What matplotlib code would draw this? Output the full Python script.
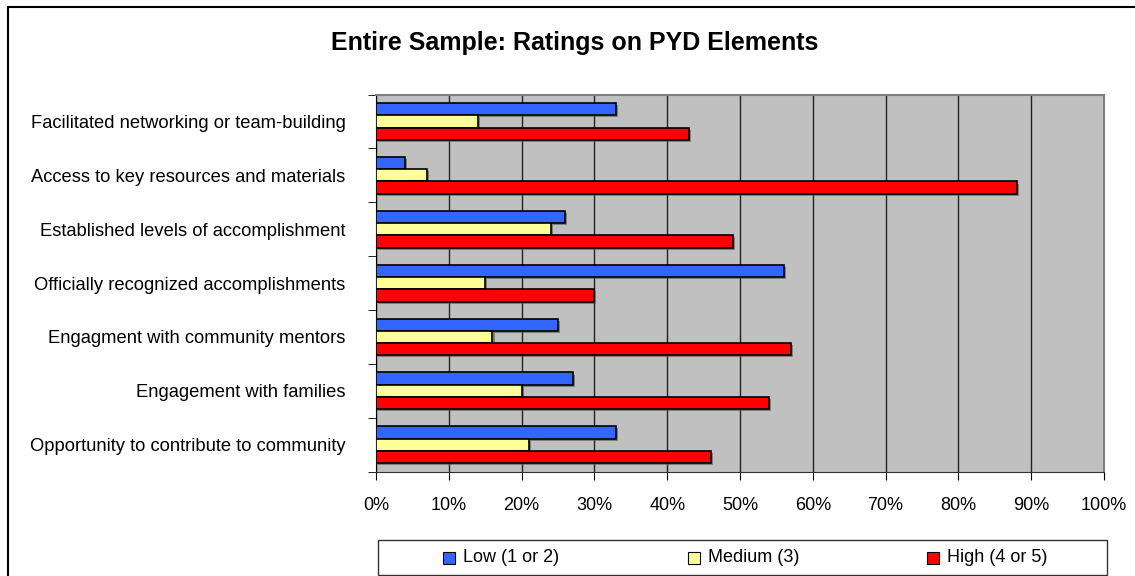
import numpy as np
import matplotlib.pyplot as plt
from matplotlib.patches import Rectangle
import matplotlib.patheffects as pe

plt.rcParams['font.family'] = ['Liberation Sans', 'DejaVu Sans']

# Daten (von oben nach unten wie im Bild)
categories = [
    'Facilitated networking or team-building',
    'Access to key resources and materials',
    'Established levels of accomplishment',
    'Officially recognized accomplishments',
    'Engagment with community mentors',
    'Engagement with families',
    'Opportunity to contribute to community',
]
low = [33, 4, 26, 56, 25, 27, 33]
medium = [14, 7, 24, 15, 16, 20, 21]
high = [43, 88, 49, 30, 57, 54, 46]
series_names = ['Low (1 or 2)', 'Medium (3)', 'High (4 or 5)']
colors = ['#3366FF', '#FFFF99', '#FF0000']
xticks = np.arange(0, 101, 10)

fig = plt.figure(figsize=(11.35, 5.76), dpi=100)
ax = fig.add_axes([376 / 1135, 1 - 471.7 / 576, 728 / 1135, 377.2 / 576])
ax.set_facecolor('#C0C0C0')

y = np.arange(len(categories))
h = 0.228
shadow = [pe.SimplePatchShadow(offset=(1.5, -1.5), shadow_rgbFace='#555555', alpha=0.6), pe.Normal()]
for i, (vals, c) in enumerate(zip([low, medium, high], colors)):
    bars = ax.barh(y + (i - 1) * h, vals, height=h, color=c, edgecolor='black',
                   linewidth=1.2, zorder=3, label=series_names[i])
    for b in bars:
        b.set_path_effects(shadow)

ax.set_xlim(0, 100)
ax.set_ylim(len(categories) - 0.5, -0.5)
ax.set_xticks(xticks)
ax.set_xticklabels([f'{v}%' for v in xticks], fontsize=13)
ax.set_yticks(y)
ax.set_yticklabels(categories, fontsize=13.2)
ax.set_yticks(np.arange(-0.5, len(categories)), minor=True)
ax.tick_params(axis='y', which='major', length=0, pad=22)
ax.tick_params(axis='y', which='minor', length=6, direction='out', color='black')
ax.tick_params(axis='x', length=6, direction='out', pad=12)
ax.grid(axis='x', color='#222222', linewidth=1, zorder=1)
ax.set_axisbelow(True)
for s in ['top', 'right']:
    ax.spines[s].set_color('#808080')
    ax.spines[s].set_linewidth(1.5)
ax.spines['left'].set_color('black')
ax.spines['bottom'].set_color('#333333')

fig.text(575 / 1135, 1 - 43 / 576, 'Entire Sample: Ratings on PYD Elements',
         ha='center', va='center', fontsize=18, fontweight='bold')

# aeusserer Rahmen
fig.patches.append(Rectangle((8 / 1135, -0.05), 1.2, 1 - 7 / 576 + 0.05, transform=fig.transFigure,
                             fill=False, edgecolor='black', linewidth=1.5))

# Legende
fig.patches.append(Rectangle((378 / 1135, 1 - 575 / 576), 729 / 1135, 35 / 576, transform=fig.transFigure,
                             fill=True, facecolor='white', edgecolor='#333333', linewidth=1))
for name, c, xpx in zip(series_names, colors, [443, 688, 927]):
    fig.patches.append(Rectangle((xpx / 1135, 1 - 564 / 576), 12 / 1135, 12 / 576,
                                 transform=fig.transFigure, facecolor=c, edgecolor='black', linewidth=0.8))
    fig.text((xpx + 20) / 1135, 1 - 557 / 576, name, ha='left', va='center', fontsize=13)

fig.savefig('out.png', dpi=100)
